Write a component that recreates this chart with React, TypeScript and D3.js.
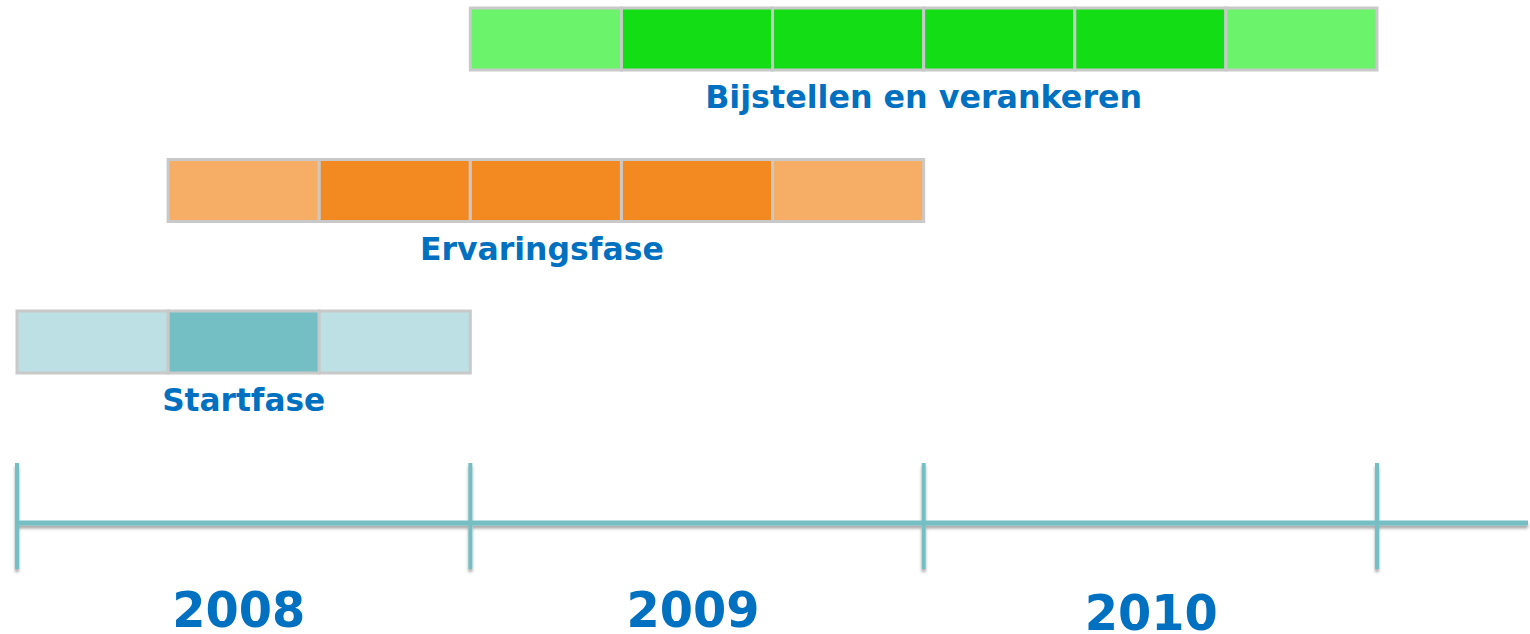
import React from "react";
import * as d3 from "d3";

// Timeline data (months from Jan 2008; each block = 4 months)
const years = ["2008", "2009", "2010"];
const yearStarts = [0, 12, 24, 36];
const blockMonths = 4;
const phaseNames = ["Bijstellen en verankeren", "Ervaringsfase", "Startfase"];
const phaseStarts = [12, 4, 0];
// 0 = light (ramp up/down), 1 = intense
const bijstellenLevels = [0, 1, 1, 1, 1, 0];
const ervaringLevels = [0, 1, 1, 1, 0];
const startLevels = [0, 1, 0];
const phaseLevels = [bijstellenLevels, ervaringLevels, startLevels];
const phaseColors = [
  ["#6BF36B", "#13DD15"],
  ["#F6AE66", "#F38A21"],
  ["#BCE0E3", "#74BFC4"],
];

const W = 1530;
const H = 634;

export default function App() {
  const x = d3.scaleLinear().domain([0, 36]).range([17, 1377]);
  const barH = 62;
  const rowStep = 151.5;
  const rowY = (i: number) => 8 + i * rowStep;
  const blue = "#0070C0";
  const teal = "#74BFC4";
  const axisY = 523;
  const labelWidths = [437, 244, 163];
  const labelShift = [0, -4, 0];
  const yearShift = [-5, -4, 1];

  return (
    <svg
      width={W}
      height={H}
      style={{ position: "absolute", left: 0, top: 0, background: "#fff" }}
      fontFamily="'DejaVu Sans', Verdana, sans-serif"
    >
      <defs>
        <filter id="sh" x="-5%" y="-50%" width="110%" height="300%">
          <feDropShadow dx="0" dy="3" stdDeviation="1.5" floodColor="#000" floodOpacity="0.35" />
        </filter>
      </defs>
      <rect width={W} height={H} fill="#fff" />
      {phaseNames.map((name, i) => {
        const levels = phaseLevels[i];
        const start = phaseStarts[i];
        const end = start + levels.length * blockMonths;
        const y0 = rowY(i);
        return (
          <g key={name}>
            {levels.map((lv, j) => {
              const m0 = start + j * blockMonths;
              return (
                <rect
                  key={j}
                  x={x(m0)}
                  y={y0}
                  width={x(m0 + blockMonths) - x(m0)}
                  height={barH}
                  fill={phaseColors[i][lv]}
                  stroke="#C9C9C9"
                  strokeWidth={3}
                />
              );
            })}
            <text
              x={(x(start) + x(end)) / 2 + labelShift[i]}
              y={y0 + barH + 38}
              textAnchor="middle"
              fontWeight="bold"
              fontSize={32}
              fill={blue}
              textLength={labelWidths[i]}
              lengthAdjust="spacingAndGlyphs"
            >
              {name}
            </text>
          </g>
        );
      })}
      <g filter="url(#sh)">
        <line x1={x(0)} x2={W - 2} y1={axisY} y2={axisY} stroke={teal} strokeWidth={5} />
        {yearStarts.map((m) => (
          <line key={m} x1={x(m)} x2={x(m)} y1={463} y2={569} stroke={teal} strokeWidth={4} />
        ))}
      </g>
      {years.map((yr, i) => (
        <text
          key={yr}
          x={(x(yearStarts[i]) + x(yearStarts[i + 1])) / 2 + yearShift[i]}
          y={i === 2 ? 630 : 627}
          textAnchor="middle"
          fontWeight="bold"
          fontSize={49}
          fill={blue}
          textLength={133}
          lengthAdjust="spacingAndGlyphs"
        >
          {yr}
        </text>
      ))}
    </svg>
  );
}
